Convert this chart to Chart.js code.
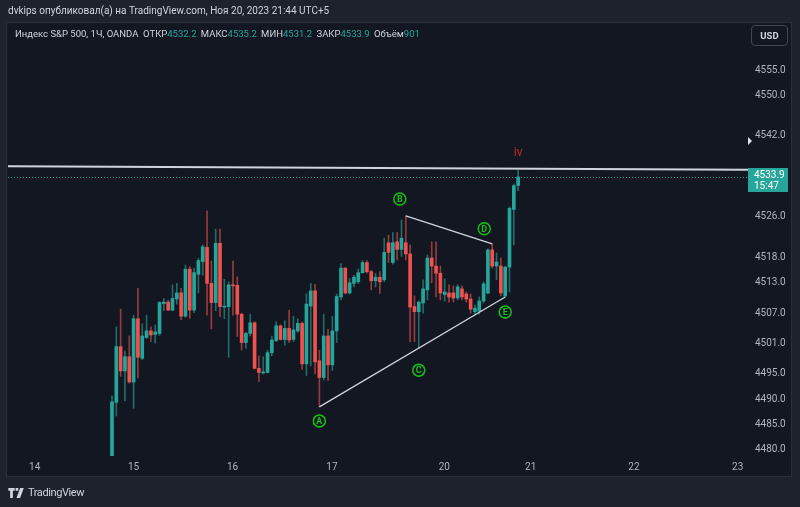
<!DOCTYPE html>
<html><head><meta charset="utf-8">
<script src="https://cdn.jsdelivr.net/npm/chart.js@4/dist/chart.umd.min.js"></script>
<style>
html,body{margin:0;padding:0;background:#1e222d;width:800px;height:507px;overflow:hidden;font-family:Roboto,'Noto Sans',sans-serif;}
#pane{position:absolute;left:6px;top:22px;width:786px;height:455px;background:#131722;border:1px solid #2a2e39;box-sizing:border-box;}
#wrap{position:absolute;left:0;top:0;width:800px;height:507px;}
#hdr{position:absolute;left:8px;top:5px;color:#d1d4dc;font-size:10px;white-space:nowrap;}
#leg{position:absolute;left:15px;top:28px;color:#d1d4dc;font-size:9.5px;white-space:nowrap;}
#leg .v{color:#26a69a;margin-right:2px;}
#usd{position:absolute;left:751px;top:25px;width:37px;height:21px;border:1px solid #434651;border-radius:4px;color:#d1d4dc;font-size:9.5px;font-weight:bold;text-align:center;line-height:19px;box-sizing:border-box;}
#logo{position:absolute;left:8px;top:486px;color:#d1d4dc;font-size:11px;letter-spacing:-0.4px;white-space:nowrap;display:flex;align-items:center;}
#logo svg{margin-right:3px;}
</style></head>
<body>
<div id="pane"></div>
<div id="wrap"><canvas id="c" width="800" height="507"></canvas></div>
<div id="hdr">dvkips опубликовал(а) на TradingView.com, Ноя 20, 2023 21:44 UTC+5</div>
<div id="leg">Индекс S&amp;P 500, 1Ч, OANDA&nbsp; ОТКР<span class="v">4532.2</span> МАКС<span class="v">4535.2</span> МИН<span class="v">4531.2</span> ЗАКР<span class="v">4533.9</span> Объём<span class="v">901</span></div>
<div id="usd">USD</div>
<div id="logo"><svg width="17" height="10" viewBox="0 0 18 11"><path d="M0 0h7v3H5v8H2V3H0z M8 0h3v3H8z M13 0h4l-4 11h-4z" fill="#d1d4dc"/></svg>TradingView</div>
<script>
// ---- data (hourly candles, index = bar number) ----
const openP  = [4478.6,4489.4,4500.4,4495.6,4498.4,4493.4,4505.9,4498.1,4502.2,4503.5,4502.8,4503.0,4508.9,4509.2,4507.6,4509.8,4511.0,4506.4,4515.7,4507.6,4514.7,4517.2,4520.0,4512.9,4509.1,4520.8,4508.2,4508.3,4512.6,4512.5,4506.8,4501.2,4503.0,4505.1,4496.1,4495.2,4495.3,4499.2,4501.6,4504.5,4501.8,4504.0,4501.8,4503.5,4505.0,4497.0,4508.4,4511.4,4497.6,4494.3,4502.5,4496.8,4503.5,4510.2,4515.9,4511.0,4512.9,4513.2,4515.0,4517.0,4515.2,4513.4,4514.1,4513.6,4520.9,4517.0,4521.1,4519.6,4520.9,4518.7,4508.3,4507.3,4509.0,4511.6,4517.9,4516.3,4514.9,4510.7,4511.0,4511.0,4510.0,4511.8,4510.8,4509.8,4507.3,4507.4,4509.4,4511.0,4519.5,4516.3,4516.3,4510.4,4516.1,4527.5,4532.2];
const highP  = [4490.7,4504.3,4507.8,4499.5,4502.5,4506.6,4511.9,4504.9,4506.6,4504.3,4504.7,4509.3,4509.9,4509.6,4512.6,4512.9,4511.9,4516.5,4516.2,4515.9,4517.8,4520.5,4527.2,4517.3,4523.6,4523.6,4513.7,4513.2,4517.3,4514.2,4507.0,4503.2,4506.8,4505.3,4498.6,4498.4,4499.7,4502.5,4505.3,4504.7,4505.5,4507.6,4506.4,4505.9,4505.3,4510.8,4512.9,4512.7,4499.7,4506.8,4503.8,4506.4,4510.8,4516.8,4516.0,4513.9,4514.5,4515.7,4517.4,4517.4,4515.5,4514.9,4515.2,4521.8,4522.4,4522.9,4522.9,4525.4,4526.2,4520.5,4510.4,4509.4,4513.6,4518.5,4521.1,4521.1,4516.3,4513.8,4512.6,4512.4,4512.6,4512.4,4511.2,4510.8,4508.6,4510.2,4513.2,4519.7,4520.7,4518.9,4517.9,4516.3,4528.0,4532.5,4535.2];
const lowP   = [4478.0,4486.7,4494.5,4489.7,4493.2,4488.2,4494.2,4497.8,4502.0,4501.4,4501.1,4502.6,4507.5,4507.5,4507.5,4508.8,4505.7,4506.2,4506.0,4507.1,4511.0,4514.5,4506.6,4503.9,4507.5,4506.3,4505.9,4498.3,4506.6,4502.4,4499.7,4500.1,4502.5,4496.0,4493.5,4495.0,4495.2,4498.6,4501.4,4501.7,4500.7,4501.2,4501.4,4503.2,4495.9,4494.7,4496.6,4495.0,4488.5,4493.8,4493.7,4495.7,4501.2,4509.6,4510.8,4510.8,4512.2,4512.9,4514.9,4514.9,4511.6,4512.2,4510.9,4513.2,4517.0,4516.7,4517.5,4518.2,4517.5,4501.4,4501.4,4500.1,4507.0,4509.6,4513.0,4510.2,4509.6,4509.4,4509.2,4509.2,4509.6,4509.6,4509.2,4507.0,4506.6,4506.8,4509.0,4510.8,4515.9,4513.6,4510.4,4510.2,4511.2,4520.5,4531.2];
const closeP = [4489.5,4500.4,4495.6,4498.4,4493.4,4505.9,4498.3,4502.5,4503.5,4502.7,4503.3,4509.1,4509.2,4507.6,4509.9,4511.0,4506.4,4515.7,4507.6,4515.0,4517.4,4520.1,4512.9,4509.1,4520.8,4508.3,4508.4,4512.6,4512.4,4506.8,4501.2,4503.0,4505.1,4496.1,4495.3,4495.4,4499.2,4501.7,4504.5,4501.8,4504.0,4501.7,4503.7,4505.0,4497.0,4508.8,4511.4,4497.4,4494.3,4502.5,4496.8,4503.5,4510.3,4515.9,4511.0,4513.0,4514.1,4515.0,4517.0,4515.2,4513.4,4514.1,4513.2,4519.0,4519.0,4520.9,4519.6,4521.8,4518.7,4508.2,4507.3,4509.2,4511.8,4517.9,4516.3,4514.9,4511.0,4511.2,4510.2,4510.0,4512.2,4510.2,4509.8,4507.8,4508.0,4509.4,4512.8,4519.5,4516.3,4517.1,4511.0,4516.1,4527.7,4532.2,4533.9];

const priceTicks = [4555,4550,4542,4526,4518,4513,4507,4501,4495,4490,4485,4480];
const dayLabels = ['14','15','16','17','20','21','22','23'];
const dayPos    = [-17.9,5.0,27.9,50.9,76.9,96.9,120.8,144.8];
const xRange = [-24.07,147.2];
const yRange = [4478.8,4564.5];

// wave points: bar index, which extreme
const waveNames = ['A','B','C','D','E'];
const waveBars  = [48,68,71,88,91];
const waveSide  = ['low','high','low','high','low'];
const subLabel = 'iv';
const hLevel = [4536.0,4535.3];   // horizontal line (left, right)
const markerPrice = 4541.0;
const countdown = '15:47';

const UP = '#26a69a', DN = '#ef5350';
const isUp = openP.map((o,i)=>closeP[i]>=o);
const wave = waveBars.map((b,k)=>({x:b,y:waveSide[k]==='low'?lowP[b]:highP[b]}));

const overlay = {
  id:'overlay',
  beforeDatasetsDraw(chart){
    const {ctx,chartArea:a,scales:{y}} = chart;
    const yc = y.getPixelForValue(closeP[closeP.length-1]);
    ctx.save();
    ctx.strokeStyle=UP; ctx.lineWidth=1; ctx.setLineDash([1,2]);
    ctx.beginPath(); ctx.moveTo(a.left,Math.round(yc)+0.5); ctx.lineTo(a.right,Math.round(yc)+0.5); ctx.stroke();
    ctx.restore();
  },
  afterDatasetsDraw(chart){
    const {ctx,scales:{x,y}} = chart;
    ctx.save();
    const offs = [[0,14],[-6,-17],[0,22],[-8,-15],[0,15]];
    wave.forEach((p,k)=>{
      const px = x.getPixelForValue(p.x)+offs[k][0];
      const py = y.getPixelForValue(p.y)+offs[k][1];
      ctx.strokeStyle='#14c214'; ctx.lineWidth=1.5;
      ctx.beginPath(); ctx.arc(px,py,6,0,Math.PI*2); ctx.stroke();
      ctx.fillStyle='#14c214'; ctx.font='bold 9px Roboto'; ctx.textAlign='center'; ctx.textBaseline='middle';
      ctx.fillText(waveNames[k],px,py+0.5);
    });
    const last = closeP.length-1;
    ctx.fillStyle='#c62828'; ctx.font='12px Roboto'; ctx.textAlign='center'; ctx.textBaseline='middle';
    ctx.fillText(subLabel,x.getPixelForValue(last),y.getPixelForValue(highP[last])-17);
    ctx.restore();
  },
  afterDraw(chart){
    const {ctx,chartArea:a,scales:{y}} = chart;
    const yc = y.getPixelForValue(closeP[closeP.length-1]);
    ctx.save();
    ctx.fillStyle=UP;
    ctx.fillRect(a.right,Math.round(yc)-9,40,24);
    ctx.fillStyle='#ffffff'; ctx.font='10px Roboto'; ctx.textAlign='left'; ctx.textBaseline='middle';
    ctx.fillText(closeP[closeP.length-1].toFixed(1),a.right+6,yc-1);
    ctx.fillText(countdown,a.right+6,yc+10);
    const ym = y.getPixelForValue(markerPrice);
    ctx.fillStyle='#e0e3eb';
    ctx.beginPath(); ctx.moveTo(a.right,ym-4); ctx.lineTo(a.right+4,ym); ctx.lineTo(a.right,ym+4); ctx.closePath(); ctx.fill();
    ctx.restore();
  }
};

new Chart(document.getElementById('c'),{
  type:'bar',
  data:{datasets:[
    {type:'line',data:[{x:xRange[0],y:hLevel[0]},{x:xRange[1],y:hLevel[1]}],borderColor:'#d1d4dc',borderWidth:2,pointRadius:0,order:0},
    {type:'line',data:[wave[0],wave[4]],borderColor:'#d1d4dc',borderWidth:1.3,pointRadius:0,order:0},
    {type:'line',data:[wave[1],wave[3]],borderColor:'#d1d4dc',borderWidth:1.3,pointRadius:0,order:0},
    {data:openP.map((o,i)=>({x:i,y:[lowP[i],highP[i]]})),backgroundColor:isUp.map(u=>u?'rgba(38,166,154,0.6)':'rgba(239,83,80,0.6)'),barThickness:1,grouped:false,order:2},
    {data:openP.map((o,i)=>({x:i,y:[o,closeP[i]]})),backgroundColor:isUp.map(u=>u?UP:DN),barThickness:3,minBarLength:1,grouped:false,order:1}
  ]},
  options:{
    responsive:false,animation:false,
    layout:{padding:{left:8,top:22,right:8,bottom:29}},
    plugins:{legend:{display:false},tooltip:{enabled:false}},
    scales:{
      x:{type:'linear',min:xRange[0],max:xRange[1],offset:false,
         grid:{display:false,drawTicks:false},border:{display:false},
         afterBuildTicks:s=>{s.ticks=dayPos.map(v=>({value:v}));},
         afterFit:s=>{s.height=22;},
         ticks:{color:'#b2b5be',font:{size:10,family:'Roboto'},padding:5,maxRotation:0,autoSkip:false,callback:(v,i)=>dayLabels[i]}},
      y:{type:'linear',position:'right',min:yRange[0],max:yRange[1],
         grid:{display:false,drawTicks:false},border:{display:false},
         afterBuildTicks:s=>{s.ticks=priceTicks.map(v=>({value:v}));},
         afterFit:s=>{s.width=44;},
         ticks:{color:'#b2b5be',font:{size:10,family:'Roboto'},padding:7,autoSkip:false,callback:v=>v.toFixed(1)}}
    }
  },
  plugins:[overlay]
});
</script>
</body></html>
